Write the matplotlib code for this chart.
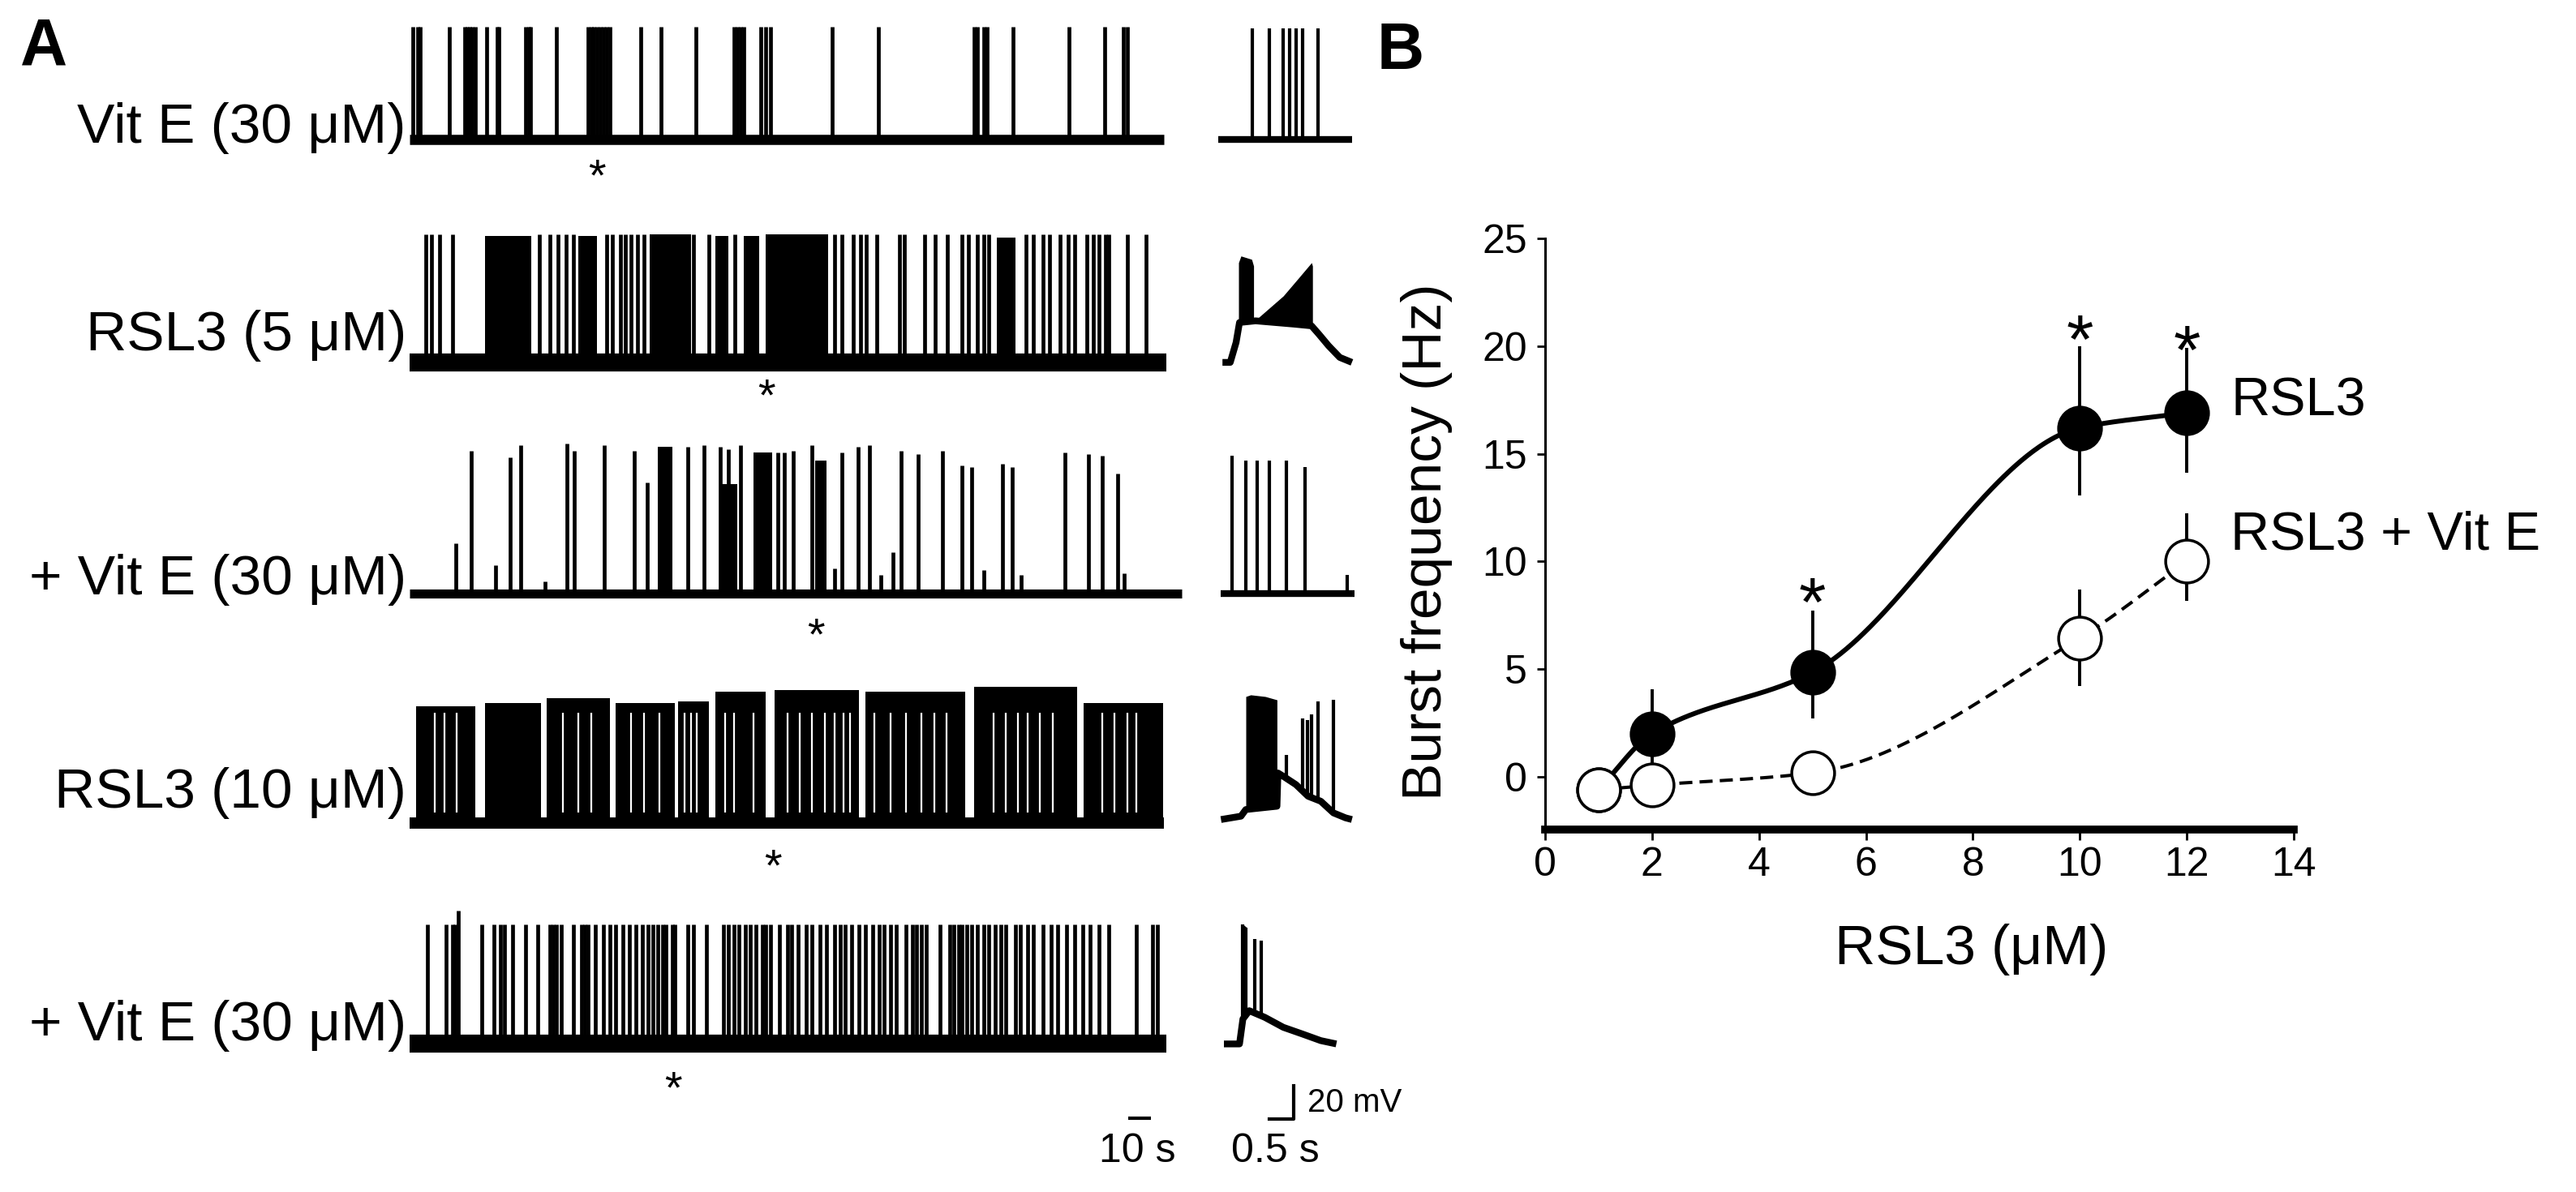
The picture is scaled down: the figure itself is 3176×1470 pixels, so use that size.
import numpy as np
import matplotlib.pyplot as plt

plt.rcParams['font.family'] = ['Liberation Sans', 'DejaVu Sans']

# ---------------- panel B data ----------------
conc = [1, 2, 5, 10, 12]
rsl3_mean = [-0.6, 2.0, 4.85, 16.2, 16.9]
rsl3_err_lo = [0.0, 2.0, 2.15, 3.15, 2.8]
rsl3_err_hi = [0.0, 2.05, 2.85, 3.8, 3.0]
vite_mean = [-0.6, -0.39, 0.18, 6.45, 10.0]
vite_err_lo = [0.0, 0.0, 0.0, 2.25, 1.85]
vite_err_hi = [0.0, 0.0, 0.0, 2.25, 2.25]
sig_conc = [5, 10, 12]
sig_height = [8.9, 21.1, 20.6]

# ---------------- panel A data (time in s, voltage in mV above rest) ----------------
row_labels = ["Vit E (30 μM)", "RSL3 (5 μM)", "+ Vit E (30 μM)", "RSL3 (10 μM)", "+ Vit E (30 μM)"]
trace_end = [332, 333, 340, 332, 333]
marked_time = [82.5, 157, 179, 160, 116]   # segment shown on the right (*)

spikes_1 = [1.5, 3.4, 4.8, 17.4, 24.3, 25.4, 26.5, 27.6, 29.0, 33.9, 38.6, 39.4, 50.9, 52.3,
            53.1, 64.7, 78.4, 79.8, 81.1, 82.5, 83.9, 85.3, 86.6, 88.0, 101.7, 110.8, 125.9,
            142.9, 144.3, 145.7, 147.0, 154.7, 156.7, 158.9, 186.0, 206.4, 248.6, 250.0, 252.8,
            254.1, 265.7, 290.4, 306.0, 314.0, 315.9]
peak_1 = 68

spikes_2 = [7.0, 9.7, 13.3, 18.8, 57.2, 61.9, 65.5, 68.8, 72.1, 86.6, 89.4, 92.7, 94.9, 97.6,
            100.4, 103.1, 125.1, 131.9, 143.1, 186.9, 190.2, 195.1, 198.4, 201.1, 205.5, 215.7,
            217.6, 226.7, 231.3, 236.8, 243.2, 245.9, 250.0, 252.8, 255.0, 271.4, 274.7, 278.8,
            281.6, 286.3, 289.8, 292.6, 298.1, 300.8, 303.6, 306.3, 307.7, 315.9, 324.2]
bursts_2 = [(33.1, 53.7, 76), (74.3, 82.5, 76), (105.8, 123.7, 77), (134.7, 140.2, 76),
            (147.0, 153.9, 76), (156.7, 184.1, 77), (258.3, 266.5, 75)]
peak_2 = 77

spikes_3_t = [20.2, 27.0, 38.0, 44.1, 49.0, 59.7, 69.3, 72.3, 85.5, 99.0, 104.5, 122.3, 129.7,
              136.6, 140.2, 145.7, 162.1, 164.9, 169.0, 177.2, 186.9, 190.4, 197.3, 202.5,
              207.5, 212.9, 216.5, 223.9, 234.4, 243.2, 247.3, 252.8, 261.0, 265.1, 269.2,
              288.5, 298.9, 304.9, 311.8, 314.6]
spikes_3_mv = [30, 86, 17, 82, 89, 7, 90, 86, 89, 86, 67, 88, 89,
               88, 87, 89, 85, 85, 86, 89, 15, 85, 88, 89,
               11, 25, 86, 84, 86, 77, 76, 14, 78, 76, 11,
               85, 84, 83, 72, 12]
bursts_3 = [(109.4, 115.5, 88), (137.4, 144.3, 66), (151.2, 159.4, 85), (178.6, 183.5, 80)]

bursts_4 = [(2.9, 29.0, 70), (33.1, 57.8, 72), (60.5, 88.0, 75), (90.7, 116.8, 72),
            (118.2, 131.9, 73), (134.7, 156.7, 79), (160.8, 197.8, 80), (200.6, 244.5, 79),
            (248.6, 293.9, 82), (296.7, 331.5, 72)]
gaps_4 = [11.1, 15.2, 20.7, 67.4, 74.3, 79.8, 97.6, 103.1, 110.0, 121.0, 123.7, 126.5, 138.8,
          142.9, 151.2, 166.3, 171.8, 177.2, 182.7, 186.9, 191.0, 193.7, 204.7, 211.6, 218.4,
          225.3, 230.8, 236.3, 256.9, 262.4, 267.9, 272.0, 277.5, 283.0, 304.9, 310.4, 315.9,
          320.0]

spikes_5 = [7.8, 16.1, 18.8, 19.9, 31.7, 37.2, 40.0, 41.9, 45.4, 51.0, 56.4, 61.9, 63.3, 64.7,
            66.6, 72.1, 75.6, 77.0, 78.4, 81.9, 85.3, 88.0, 90.7, 94.0, 96.8, 99.5, 102.3,
            105.0, 107.2, 109.4, 111.3, 112.7, 115.5, 116.8, 122.3, 125.1, 130.6, 138.0, 140.2,
            142.9, 145.1, 147.9, 149.8, 152.5, 155.3, 156.7, 158.9, 162.7, 166.3, 168.2, 170.9,
            174.5, 177.2, 180.8, 183.5, 186.9, 189.6, 191.8, 194.5, 197.8, 200.6, 203.9, 206.6,
            208.8, 211.6, 214.3, 218.4, 221.2, 223.1, 225.3, 227.5, 233.5, 237.7, 239.6, 241.8,
            243.2, 245.1, 247.3, 250.0, 252.8, 255.0, 257.7, 260.4, 262.4, 266.5, 268.7, 272.0,
            274.7, 278.8, 282.4, 285.2, 289.0, 292.6, 296.2, 299.4, 303.6, 307.7, 320.0, 326.9,
            329.1]
peak_5 = 72
tall_5_t, tall_5_mv = 21.5, 80

# expanded segments (time in s)
ins_path_t = [[0.03, 2.78],
              [0.12, 0.28, 0.40, 0.47, 0.80, 1.20, 1.60, 1.95, 2.10, 2.30, 2.53, 2.78],
              [0.09, 2.85],
              [0.09, 0.50, 0.60, 1.24, 1.26, 1.37, 1.63, 1.88, 2.14, 2.40, 2.65, 2.78],
              [0.15, 0.47, 0.54, 0.67, 0.99, 1.37, 1.76, 2.14, 2.46]]
ins_path_mv = [[0, 0],
               [0, 0, 12, 24, 25, 24, 23, 22, 17, 10, 3, 0],
               [0, 0],
               [2, 4, 8, 10, 30, 28, 23, 16, 13, 6, 3, 2],
               [0, 0, 15, 20, 16, 10, 6, 2, 0]]
ins_spk_t = [[0.73, 1.09, 1.37, 1.50, 1.63, 1.76, 2.08],
             [],
             [0.32, 0.60, 0.83, 1.09, 1.44, 1.82, 2.68],
             [1.44, 1.76, 1.86, 1.95, 2.08, 2.40],
             [0.54, 0.60, 0.79, 0.92]]
ins_spk_mv = [[67, 67, 67, 67, 67, 67, 67],
              [],
              [83, 80, 80, 80, 80, 76, 11],
              [41, 63, 62, 65, 73, 74],
              [72, 70, 63, 62]]
ins_env = [[],
           [([0.45, 0.50, 0.72, 0.76], [60, 64, 62, 58]),
            ([0.86, 1.37, 1.69, 1.95, 1.97], [27, 40, 51, 60, 58])],
           [],
           [([0.60, 0.70, 1.00, 1.24], [76, 77, 76, 74])],
           [([0.54, 0.58, 0.62], [72, 71, 70])]]

# ---------------- layout ----------------
row_offset = [-84, -218, -357, -495, -628]
label_y = [-77, -202, -349, -477, -617]
base_lw = [9, 16, 8, 10, 16]
mark_y = [-98.5, -230.7, -374.6, -513.7, -647.3]
ylim_a = (-1470 / 2.05, 0)

fig = plt.figure(figsize=(31.76, 14.70), dpi=100)

axA = fig.add_axes([505 / 3176, 0, 345 * (930 / 332) / 3176, 1])
axA.set_xlim(0, 345)
axA.set_ylim(*ylim_a)
axA.axis('off')

axI = fig.add_axes([1500 / 3176, 0, 170 / 3176, 1])
axI.set_xlim(0, 170 / 60)
axI.set_ylim(*ylim_a)
axI.axis('off')

spk_lw = 3.4


def base(ax, off, t0, t1, lw):
    ax.plot([t0, t1], [off, off], color='black', lw=lw, solid_capstyle='butt')


def blocks(ax, off, items):
    for t0, t1, pk in items:
        ax.fill_between([t0, t1], off, off + pk, color='black', lw=0)


# trace 1
base(axA, row_offset[0], 0, trace_end[0], base_lw[0])
axA.vlines(spikes_1, row_offset[0], row_offset[0] + peak_1, color='black', lw=spk_lw)
# trace 2
base(axA, row_offset[1], 0, trace_end[1], base_lw[1])
blocks(axA, row_offset[1], bursts_2)
axA.vlines(spikes_2, row_offset[1], row_offset[1] + peak_2, color='black', lw=spk_lw)
# trace 3
base(axA, row_offset[2], 0, trace_end[2], base_lw[2])
blocks(axA, row_offset[2], bursts_3)
axA.vlines(spikes_3_t, row_offset[2], row_offset[2] + np.array(spikes_3_mv), color='black', lw=spk_lw)
# trace 4
base(axA, row_offset[3], 0, trace_end[3], base_lw[3])
blocks(axA, row_offset[3], bursts_4)
axA.vlines(gaps_4, row_offset[3] + 6, row_offset[3] + 66, color='white', lw=1.6)
# trace 5
base(axA, row_offset[4], 0, trace_end[4], base_lw[4])
axA.vlines(spikes_5, row_offset[4], row_offset[4] + peak_5, color='black', lw=spk_lw)
axA.vlines([tall_5_t], row_offset[4], row_offset[4] + tall_5_mv, color='black', lw=spk_lw)

# asterisk glyph centre sits ~0.58 em above the baseline
star_a = 40
star_a_drop = 0.58 * star_a / 72 * 100 / 2.05
for k in range(5):
    axA.text(-1.5, label_y[k], row_labels[k], ha='right', va='center', fontsize=50, clip_on=False)
    axA.text(marked_time[k], mark_y[k] - star_a_drop, '*', ha='center', va='baseline',
             fontsize=star_a)

    off = row_offset[k]
    pt = np.array(ins_path_t[k])
    pv = np.array(ins_path_mv[k])
    axI.plot(pt, off + pv, color='black', lw=6, solid_capstyle='butt')
    for et, ev in ins_env[k]:
        et = np.array(et)
        axI.fill_between(et, off + np.interp(et, pt, pv), off + np.array(ev), color='black', lw=0)
    if ins_spk_t[k]:
        st = np.array(ins_spk_t[k])
        axI.vlines(st, off + np.interp(st, pt, pv), off + np.array(ins_spk_mv[k]),
                   color='black', lw=3)

# scale bars
axA.plot([316.3, 326.3], [-672.7, -672.7], color='black', lw=3, solid_capstyle='butt')
axA.text(320.3, -699, '10 s', ha='center', va='baseline', fontsize=36)
axI.plot([1.083, 1.583, 1.583], [-673.2, -673.2, -673.2 + 20], color='black', lw=3)
axI.text(1.2, -699, '0.5 s', ha='center', va='baseline', fontsize=36)
axI.text(1.87, -663.4, '20 mV', ha='left', va='center', fontsize=29, clip_on=False)

# ---------------- panel B ----------------
def pchip(x, y, xs):
    x = np.asarray(x, float)
    y = np.asarray(y, float)
    h = np.diff(x)
    d = np.diff(y) / h
    m = np.zeros_like(y)
    m[0], m[-1] = d[0], d[-1]
    for k in range(1, len(x) - 1):
        if d[k - 1] * d[k] > 0:
            w1 = 2 * h[k] + h[k - 1]
            w2 = h[k] + 2 * h[k - 1]
            m[k] = (w1 + w2) / (w1 / d[k - 1] + w2 / d[k])
    idx = np.clip(np.searchsorted(x, xs) - 1, 0, len(x) - 2)
    s = (xs - x[idx]) / h[idx]
    h00 = 2 * s**3 - 3 * s**2 + 1
    h10 = s**3 - 2 * s**2 + s
    h01 = -2 * s**3 + 3 * s**2
    h11 = s**3 - s**2
    return h00 * y[idx] + h10 * h[idx] * m[idx] + h01 * y[idx + 1] + h11 * h[idx] * m[idx + 1]


axB = fig.add_axes([1905 / 3176, 1 - 1023 / 1470, 923 / 3176, 729 / 1470])
xs = np.linspace(conc[0], conc[-1], 300)
axB.plot(xs, pchip(conc, rsl3_mean, xs), color='black', lw=4.3, zorder=2)
axB.plot(xs, pchip(conc, vite_mean, xs), color='black', lw=2.9, dashes=(4, 2.2), zorder=2)
axB.errorbar(conc, rsl3_mean, yerr=[rsl3_err_lo, rsl3_err_hi], fmt='none', ecolor='black',
             elinewidth=2.8, capsize=0, zorder=3)
axB.errorbar(conc, vite_mean, yerr=[vite_err_lo, vite_err_hi], fmt='none', ecolor='black',
             elinewidth=2.8, capsize=0, zorder=3)
axB.plot(conc, rsl3_mean, 'o', ms=38, mfc='black', mec='black', mew=2.5, zorder=4)
axB.plot(conc, vite_mean, 'o', ms=38, mfc='white', mec='black', mew=2.5, zorder=5)
star_b = 62
star_b_drop = 0.58 * star_b / 72 * 100 / (729 / 27.45)
for xc, yc in zip(sig_conc, sig_height):
    axB.text(xc, yc - star_b_drop, '*', ha='center', va='baseline', fontsize=star_b, zorder=6)

axB.text(12.82, 17.4, 'RSL3', ha='left', va='center', fontsize=48)
axB.text(12.82, 11.2, 'RSL3 + Vit E', ha='left', va='center', fontsize=48)

axB.set_xlim(0, 14)
axB.set_ylim(-2.45, 25)
axB.set_xticks(range(0, 15, 2))
axB.set_yticks(range(0, 26, 5))
axB.spines['top'].set_visible(False)
axB.spines['right'].set_visible(False)
axB.spines['left'].set_linewidth(2.2)
axB.spines['bottom'].set_linewidth(7)
axB.tick_params(axis='y', length=7, width=2, labelsize=36, pad=9)
axB.tick_params(axis='x', length=9, width=2, labelsize=36, pad=6)
axB.set_xlabel('RSL3 (μM)', fontsize=50, va='center')
axB.xaxis.set_label_coords(0.570, -0.203)
axB.set_ylabel('Burst frequency (Hz)', fontsize=50, va='center')
axB.yaxis.set_label_coords(-0.158, 0.486)

# panel letters
fig.text(25 / 3176, 1 - 80 / 1470, 'A', fontsize=58, fontweight='bold', ha='left', va='baseline')
fig.text(1698 / 3176, 1 - 85 / 1470, 'B', fontsize=58, fontweight='bold', ha='left', va='baseline')

fig.savefig('out.png', dpi=100, facecolor='white')
